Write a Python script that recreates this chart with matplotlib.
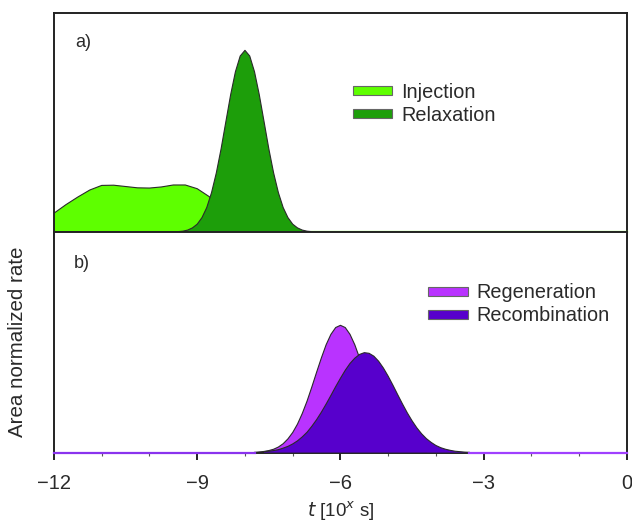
import matplotlib
matplotlib.use("Agg")
import matplotlib.pyplot as plt
from matplotlib.ticker import MultipleLocator
from matplotlib.patches import Patch
import numpy as np

plt.rcParams['font.family'] = ['Liberation Sans', 'DejaVu Sans']

# ---- data ----
inj_t = [-12.0, -11.75, -11.5, -11.25, -11.0, -10.75, -10.5, -10.25, -10.0, -9.75,
         -9.5, -9.25, -9.0, -8.75, -8.5, -8.25, -8.0, -7.75, -7.5]
inj_y = [0.086, 0.125, 0.160, 0.192, 0.213, 0.214, 0.208, 0.202, 0.201, 0.206,
         0.215, 0.215, 0.198, 0.162, 0.110, 0.062, 0.028, 0.010, 0.0]

relax_t = [-9.4, -9.3, -9.2, -9.1, -9.0, -8.9, -8.8, -8.7, -8.6, -8.5, -8.4, -8.3, -8.2, -8.1,
           -8.0, -7.9, -7.8, -7.7, -7.6, -7.5, -7.4, -7.3, -7.2, -7.1, -7.0, -6.9, -6.8, -6.7, -6.6]
relax_y = [0.002, 0.004, 0.009, 0.019, 0.036, 0.066, 0.112, 0.180, 0.270, 0.380, 0.504, 0.627, 0.732, 0.804,
           0.830, 0.804, 0.732, 0.627, 0.504, 0.380, 0.270, 0.180, 0.112, 0.066, 0.036, 0.019, 0.009, 0.004, 0.002]

regen_t = [-7.8, -7.7, -7.6, -7.5, -7.4, -7.3, -7.2, -7.1, -7.0, -6.9, -6.8, -6.7, -6.6, -6.5, -6.4, -6.3,
           -6.2, -6.1, -6.0, -5.9, -5.8, -5.7, -5.6, -5.5, -5.4, -5.3, -5.2, -5.1, -5.0, -4.9, -4.8,
           -4.7, -4.6, -4.5, -4.4, -4.3, -4.2]
regen_y = [0.001, 0.003, 0.005, 0.009, 0.015, 0.025, 0.040, 0.062, 0.091, 0.129, 0.177, 0.233, 0.297, 0.364,
           0.429, 0.489, 0.536, 0.567, 0.577, 0.567, 0.536, 0.489, 0.429, 0.364, 0.297, 0.233, 0.177,
           0.129, 0.091, 0.062, 0.040, 0.025, 0.015, 0.009, 0.005, 0.003, 0.001]

recomb_t = [-7.6, -7.5, -7.4, -7.3, -7.2, -7.1, -7.0, -6.9, -6.8, -6.7, -6.6, -6.5, -6.4, -6.3, -6.2,
            -6.1, -6.0, -5.9, -5.8, -5.7, -5.6, -5.5, -5.4, -5.3, -5.2, -5.1, -5.0, -4.9, -4.8, -4.7,
            -4.6, -4.5, -4.4, -4.3, -4.2, -4.1, -4.0, -3.9, -3.8, -3.7, -3.6, -3.5, -3.4, -3.3]
recomb_y = [0.004, 0.006, 0.009, 0.013, 0.020, 0.028, 0.039, 0.053, 0.071, 0.092, 0.119, 0.149, 0.183,
            0.220, 0.259, 0.299, 0.337, 0.373, 0.404, 0.428, 0.445, 0.453, 0.450, 0.437, 0.414, 0.383,
            0.346, 0.305, 0.262, 0.220, 0.180, 0.144, 0.112, 0.085, 0.063, 0.046, 0.032, 0.022, 0.015,
            0.010, 0.006, 0.004, 0.002, 0.001]

top_labels = ["Injection", "Relaxation"]
bot_labels = ["Regeneration", "Recombination"]
top_colors = ["#5eff00", "#1d9e0a"]
bot_colors = ["#b933ff", "#5700cc"]
xticks = [-12, -9, -6, -3, 0]
xtick_labels = ["\u221212", "\u22129", "\u22126", "\u22123", "0"]

# ---- figure ----
fig = plt.figure(figsize=(6.32, 5.25), dpi=100)
ax1 = fig.add_axes([0.0854, 0.558, 0.9066, 0.417])
ax2 = fig.add_axes([0.0854, 0.138, 0.9066, 0.420], sharex=ax1)

edge = "#2a2a2a"
txtc = "#2a2a2a"

def draw(ax, t, y, color, z):
    ax.fill_between(t, y, 0, facecolor=color, edgecolor="none", zorder=z)
    ax.plot(t, y, color=edge, lw=0.8, zorder=z + 0.1)

draw(ax1, inj_t, inj_y, top_colors[0], 2)
draw(ax1, relax_t, relax_y, top_colors[1], 3)
ax1.plot([relax_t[-1], 0], [0, 0], color=top_colors[0], lw=1.6, zorder=5, clip_on=False)

draw(ax2, regen_t, regen_y, bot_colors[0], 2)
draw(ax2, recomb_t, recomb_y, bot_colors[1], 3)
ax2.plot([-12, regen_t[0]], [0, 0], color="#8a33ee", lw=1.6, zorder=5, clip_on=False)
ax2.plot([recomb_t[-1], 0], [0, 0], color="#a040ff", lw=1.6, zorder=5, clip_on=False)

for ax in (ax1, ax2):
    ax.set_xlim(-12, 0)
    ax.set_ylim(0, 1)
    ax.set_yticks([])
    ax.xaxis.set_major_locator(plt.FixedLocator(xticks))
    ax.xaxis.set_minor_locator(MultipleLocator(1))
    ax.tick_params(axis='x', which='major', direction='out', length=5, width=1.4, color='#222222')
    ax.tick_params(axis='x', which='minor', direction='out', length=2.5, width=0.8, color='#555555')
    for s in ax.spines.values():
        s.set_color('#222222')
        s.set_linewidth(1.4)

ax1.tick_params(axis='x', which='both', labelbottom=False)
ax2.set_xticklabels(xtick_labels)
ax2.tick_params(axis='x', which='major', labelsize=14.5, pad=10.5, labelcolor=txtc)

ax2.set_xlabel(r"$\it{t}$ [10$^{x}$ s]", fontsize=13.5, color=txtc, labelpad=5)
ax2.set_ylabel("Area normalized rate", fontsize=14.8, color=txtc)
ax2.yaxis.set_label_coords(-0.063, 0.5)
ax2.yaxis.label.set_va('center')

ax1.text(0.037, 0.845, "a)", transform=ax1.transAxes, fontsize=13, color=txtc)
ax2.text(0.035, 0.835, "b)", transform=ax2.transAxes, fontsize=13, color=txtc)

leg_kw = dict(loc='center left', frameon=False, fontsize=14.3, handlelength=2.0,
              handleheight=0.35, handletextpad=0.45, labelspacing=0.2, borderaxespad=0,
              borderpad=0)
h1 = [Patch(facecolor=c, edgecolor='#666666', linewidth=0.8) for c in top_colors]
leg1 = ax1.legend(h1, top_labels, bbox_to_anchor=((352.7 - 54) / 573, (232 - 103.6) / 219), **leg_kw)
h2 = [Patch(facecolor=c, edgecolor='#666666', linewidth=0.8) for c in bot_colors]
leg2 = ax2.legend(h2, bot_labels, bbox_to_anchor=((428 - 54) / 573, (452.5 - 304.3) / 220.5), **leg_kw)
for leg in (leg1, leg2):
    for txt in leg.get_texts():
        txt.set_color(txtc)

fig.savefig("out.png", dpi=100)
